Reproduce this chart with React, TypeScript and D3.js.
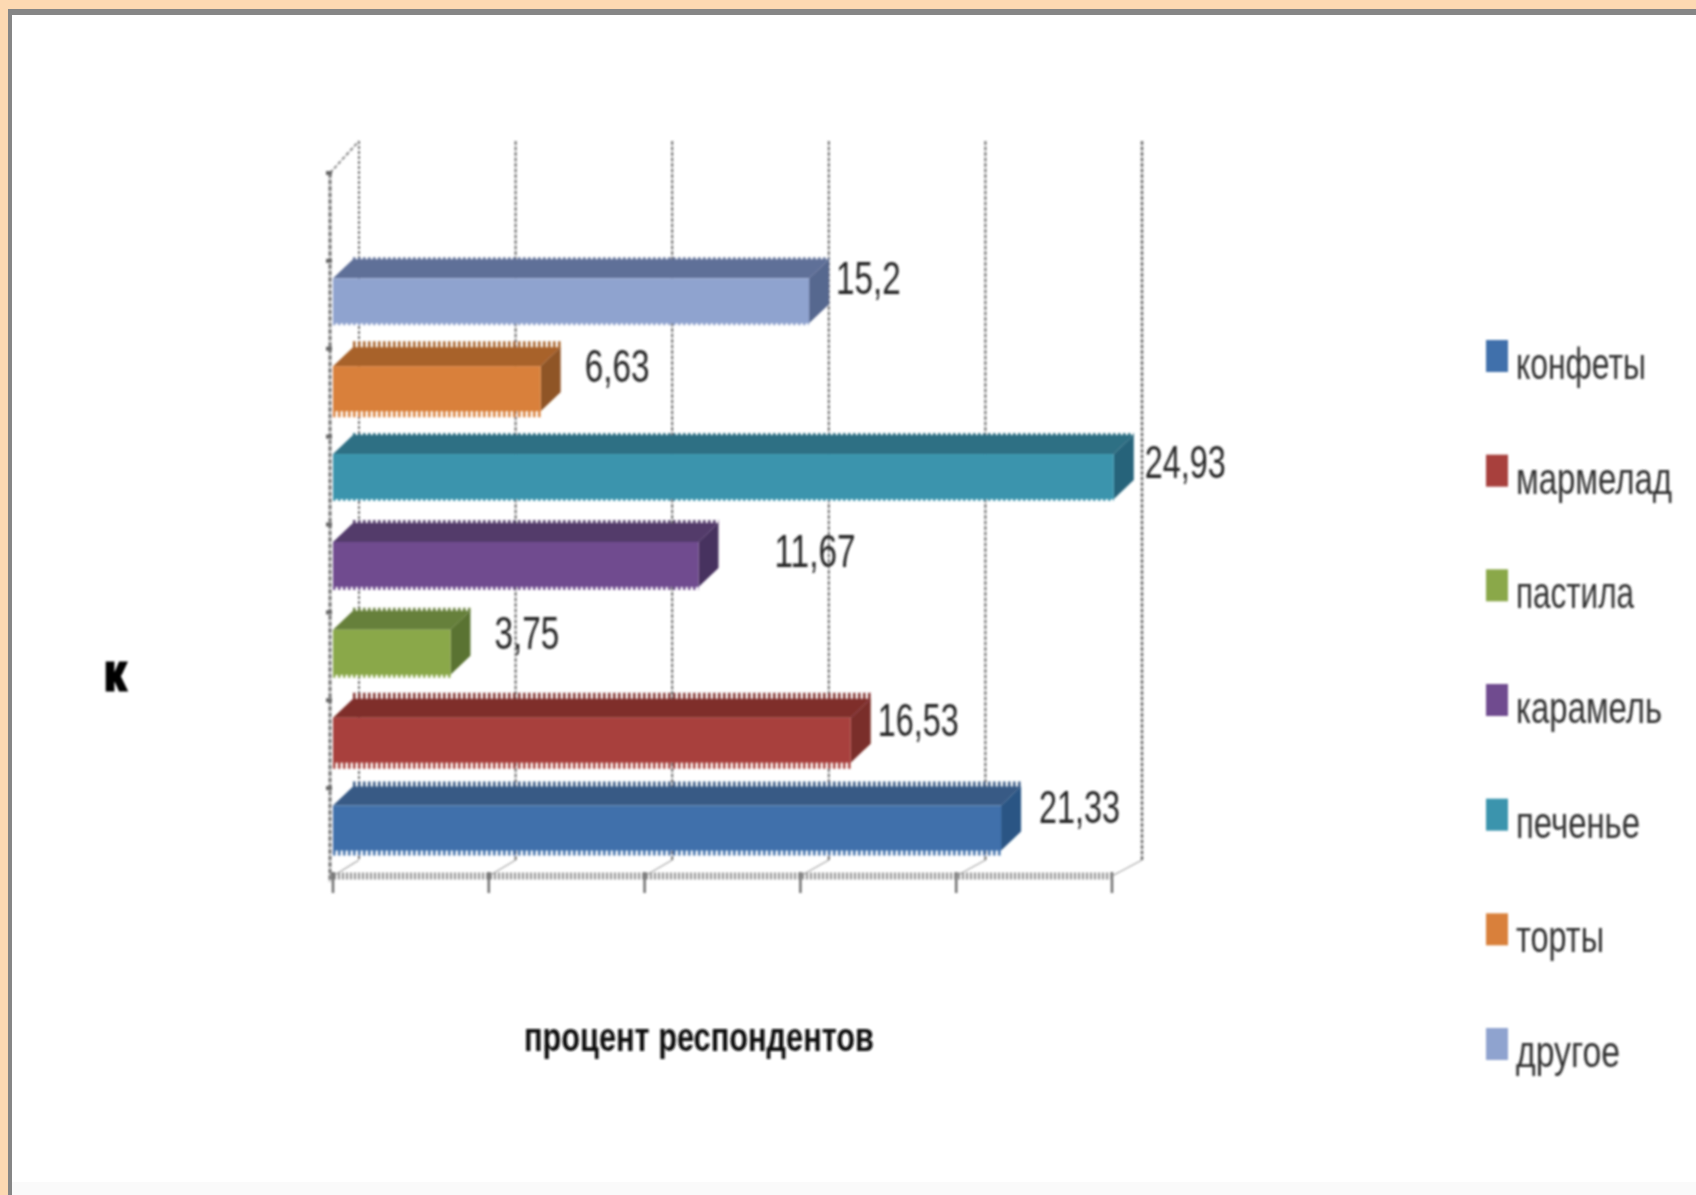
import { FC } from 'react';
import * as d3 from 'd3';

const categories = ['конфеты', 'мармелад', 'пастила', 'карамель', 'печенье', 'торты', 'другое'];
const values = [21.33, 16.53, 3.75, 11.67, 24.93, 6.63, 15.2];
const valueLabels = ['21,33', '16,53', '3,75', '11,67', '24,93', '6,63', '15,2'];
const axisTitle = 'процент респондентов';

// front / top / side shades for each bar
const frontColors = ['#3f70ab', '#a8403c', '#8aa84a', '#6f4c8f', '#3a94ad', '#d9803a', '#8fa3cf'];
const topColors = ['#375a85', '#7f2f2c', '#66803a', '#523a6b', '#2f6f84', '#a8622b', '#5f6f98'];
const sideColors = ['#2a5484', '#7a2d2a', '#5a7332', '#46305f', '#28637a', '#8f5426', '#56678f'];

// labels sit at uneven distances from the bars in the original
const labelDx = [38, 27, 44, 76, 31, 44, 27];
const labelDy = [-5, -4, -3, 3, 1, -7, -7];
const legendWidths = [130, 156, 118, 146, 124, 88, 104];
// how rough the bar edges look, the scan is worse on some bars
const edgeRough = [6, 7, 4, 4, 3, 7, 3];

const WIDTH = 1696;
const HEIGHT = 1195;
const DEPTH_X = 20;
const DEPTH_Y = 19;
const WALL_X = 26;
const WALL_Y = 16;
const BAR_H = 45;
const BAR_SHIFT = -4;

const x = d3.scaleLinear().domain([0, 25]).range([333, 1116]);
// front axis runs a little shorter than the bars' own scale
const xFront = d3.scaleLinear().domain([0, 25]).range([333, 1112]);
// the top band stays empty, as in the original
const y = d3.scaleBand<string>().domain([...categories, '']).range([876, 173]);
const legendY = d3.scalePoint<string>().domain(categories).range([356, 1044]);

const poly = (pts: [number, number][]) => pts.map((p) => p.join(',')).join(' ');

const App: FC = () => {
  const bottom = y.range()[0];
  const top = y.range()[1];
  const axisX = x(0) - 3;
  const wallTop = 141;
  const font = '"Liberation Sans", Arial, sans-serif';

  return (
    <svg
      width={WIDTH}
      height={HEIGHT}
      viewBox={`0 0 ${WIDTH} ${HEIGHT}`}
      style={{ position: 'absolute', left: 0, top: 0, display: 'block' }}
    >
      <defs>
        <filter id='soft' x='-2%' y='-2%' width='104%' height='104%'>
          <feGaussianBlur stdDeviation='1' />
        </filter>
      </defs>

      <rect width={WIDTH} height={HEIGHT} fill='#fdd9b2' />
      <rect x={8} y={9} width={WIDTH - 8} height={HEIGHT - 9} fill='#868686' />
      <rect x={12} y={15} width={WIDTH - 12} height={HEIGHT - 15} fill='#ffffff' />
      <rect x={12} y={1182} width={WIDTH - 12} height={13} fill='#fafafa' />

      <g filter='url(#soft)'>
        {/* back wall gridlines and floor */}
        {x.ticks(5).map((t) => (
          <g key={t} stroke='#6f6f6f'>
            <line
              x1={x(t) + WALL_X}
              x2={x(t) + WALL_X}
              y1={wallTop}
              y2={bottom - WALL_Y}
              strokeWidth={t === 25 ? 2.5 : 2}
              strokeDasharray={t === 0 ? '3 2' : '4 1.5'}
            />
            <line x1={xFront(t)} y1={bottom} x2={x(t) + WALL_X} y2={bottom - WALL_Y} strokeWidth={1.2} strokeOpacity={0.6} />
            <line x1={xFront(t)} y1={bottom - 4} x2={xFront(t)} y2={bottom + 17} strokeWidth={2.5} />
          </g>
        ))}
        <line x1={axisX} y1={top} x2={x(0) + WALL_X} y2={wallTop} stroke='#8a8a8a' strokeWidth={2} strokeDasharray='4 2' />

        {/* category axis */}
        <line x1={axisX} y1={top} x2={axisX} y2={bottom + 6} stroke='#777777' strokeWidth={3} strokeDasharray='5 1.5' />
        {[...y.domain().map((d) => y(d) as number), top].map((v) => (
          <line key={v} x1={axisX - 4} x2={axisX + 2} y1={v} y2={v} stroke='#666666' strokeWidth={4} />
        ))}

        {/* value axis */}
        <line x1={axisX} x2={xFront(25)} y1={bottom} y2={bottom} stroke='#8c8c8c' strokeWidth={7} strokeDasharray='2 2' />

        {/* bars */}
        {categories.map((c, i) => {
          const cy = (y(c) as number) + y.bandwidth() / 2 + BAR_SHIFT;
          const y0 = cy - BAR_H / 2;
          const y1 = cy + BAR_H / 2;
          const x0 = x(0);
          const xv = x(values[i]);
          return (
            <g key={c}>
              <polygon
                points={poly([[x0, y0], [x0 + DEPTH_X, y0 - DEPTH_Y], [xv + DEPTH_X, y0 - DEPTH_Y], [xv, y0]])}
                fill={topColors[i]}
              />
              <polygon
                points={poly([[xv, y0], [xv + DEPTH_X, y0 - DEPTH_Y], [xv + DEPTH_X, y1 - DEPTH_Y], [xv, y1]])}
                fill={sideColors[i]}
              />
              <rect x={x0} y={y0} width={xv - x0} height={BAR_H} fill={frontColors[i]} />
              <line
                x1={x0 + DEPTH_X}
                x2={xv + DEPTH_X}
                y1={y0 - DEPTH_Y - edgeRough[i] / 2 + 1}
                y2={y0 - DEPTH_Y - edgeRough[i] / 2 + 1}
                stroke={topColors[i]}
                strokeWidth={edgeRough[i]}
                strokeDasharray='2.5 2.5'
              />
              <line
                x1={x0}
                x2={xv}
                y1={y1 + edgeRough[i] / 2 - 1}
                y2={y1 + edgeRough[i] / 2 - 1}
                stroke={frontColors[i]}
                strokeWidth={edgeRough[i]}
                strokeDasharray='2.5 2.5'
              />
              <text
                x={xv + labelDx[i]}
                y={cy + labelDy[i]}
                fontFamily={font}
                fontSize={46}
                fill='#262626'
                textLength={valueLabels[i].length * 16.2}
                lengthAdjust='spacingAndGlyphs'
              >
                {valueLabels[i]}
              </text>
            </g>
          );
        })}

        {/* axis titles */}
        <text
          x={699}
          y={1051}
          textAnchor='middle'
          fontFamily={font}
          fontSize={40}
          fontWeight={700}
          fill='#111111'
          textLength={350}
          lengthAdjust='spacingAndGlyphs'
        >
          {axisTitle}
        </text>
        <text x={104} y={690} fontFamily={font} fontSize={50} fontWeight={700} stroke='#000000' strokeWidth={3} fill='#000000' textLength={22} lengthAdjust='spacingAndGlyphs'>
          к
        </text>

        {/* legend */}
        {categories.map((c, i) => {
          const ly = legendY(c) as number;
          return (
            <g key={c}>
              <rect x={1486} y={ly - 16} width={22} height={32} fill={frontColors[i]} />
              {/* stretched upward: the original text is tall and squeezed */}
              <text
                transform={`translate(1516,${ly + 23}) scale(1,1.22)`}
                fontFamily={font}
                fontSize={36}
                fill='#333333'
                textLength={legendWidths[i]}
                lengthAdjust='spacingAndGlyphs'
              >
                {c}
              </text>
            </g>
          );
        })}
      </g>
    </svg>
  );
};

export default App;
